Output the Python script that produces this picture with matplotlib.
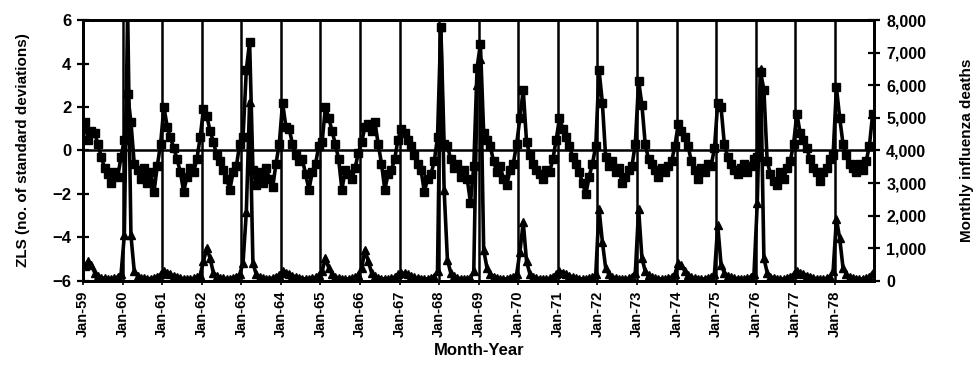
import numpy as np
import matplotlib.pyplot as plt
from matplotlib.ticker import FuncFormatter

plt.rcParams['font.family'] = ['Liberation Sans', 'DejaVu Sans']

# ZLS by month, one row per year (Jan..Dec), 1959-1978
zls = [
    1.3, 0.5, 0.9, 0.8, 0.3, -0.3, -0.8, -1.1, -1.5, -1.0, -1.2, -0.3,   # 1959
    0.5, 2.6, 1.3, -0.6, -0.9, -1.3, -0.8, -1.5, -1.0, -1.9, -0.7, 0.3,  # 1960
    2.0, 1.1, 0.6, 0.1, -0.4, -1.0, -1.9, -1.2, -0.8, -1.0, -0.4, 0.6,   # 1961
    1.9, 1.6, 0.9, 0.4, -0.2, -0.5, -0.9, -1.3, -1.8, -1.0, -0.7, 0.3,   # 1962
    0.6, 3.7, 5.0, -0.9, -1.6, -1.0, -1.5, -0.8, -1.3, -1.7, -0.6, 0.3,  # 1963
    2.2, 1.1, 1.0, 0.3, -0.2, -0.5, -0.4, -1.1, -1.8, -1.0, -0.6, 0.2,   # 1964
    0.4, 2.0, 1.5, 0.9, 0.3, -0.4, -1.8, -0.9, -1.1, -1.3, -0.8, -0.1,   # 1965
    0.4, 1.1, 1.2, 0.9, 1.3, 0.3, -0.6, -1.8, -1.1, -0.9, -0.4, 0.5,     # 1966
    1.0, 0.8, 0.5, 0.2, -0.2, -0.6, -0.9, -1.9, -1.3, -1.1, -0.5, 0.6,   # 1967
    5.7, 0.3, 0.2, -0.4, -0.8, -0.6, -1.2, -0.9, -1.3, -2.4, -0.7, 3.8,  # 1968
    4.9, 0.8, 0.5, 0.2, -0.5, -1.0, -0.7, -1.3, -1.6, -0.9, -0.6, 0.3,   # 1969
    1.5, 2.8, 0.4, -0.2, -0.6, -0.9, -1.1, -1.3, -0.9, -1.0, -0.4, 0.5,  # 1970
    1.5, 1.0, 0.6, 0.2, -0.3, -0.6, -1.0, -1.5, -2.0, -1.2, -0.6, 0.2,   # 1971
    3.7, 2.2, -0.3, -0.7, -0.5, -1.0, -0.8, -1.5, -1.2, -0.9, -0.7, 0.3, # 1972
    3.2, 2.1, 0.3, -0.4, -0.6, -0.9, -1.2, -0.8, -1.0, -0.7, -0.5, 0.2,  # 1973
    1.2, 0.9, 0.6, 0.2, -0.5, -0.9, -1.3, -0.8, -1.0, -0.6, -0.7, 0.1,   # 1974
    2.2, 2.0, 0.3, -0.3, -0.6, -0.9, -1.1, -0.8, -0.6, -1.0, -0.7, -0.4, # 1975
    -0.3, 3.6, 2.8, -0.5, -1.1, -1.4, -1.6, -1.0, -1.3, -0.8, -0.5, 0.3, # 1976
    1.7, 0.8, 0.5, 0.1, -0.4, -0.8, -1.0, -1.4, -1.0, -0.8, -0.4, -0.2,  # 1977
    2.9, 1.5, 0.3, -0.2, -0.6, -0.8, -1.0, -0.6, -0.9, -0.5, 0.2, 1.7,   # 1978
]

# monthly influenza deaths, same layout
deaths = [
    450, 600, 500, 250, 150, 100, 80, 70, 60, 90, 120, 200,       # 1959
    1400, 8300, 1400, 300, 150, 100, 80, 70, 70, 90, 130, 200,    # 1960
    300, 250, 200, 150, 120, 90, 70, 60, 60, 80, 110, 180,        # 1961
    600, 1000, 700, 250, 150, 100, 80, 70, 60, 90, 120, 200,      # 1962
    550, 2100, 5500, 550, 200, 110, 80, 70, 60, 90, 120, 190,     # 1963
    300, 250, 220, 160, 120, 90, 70, 60, 60, 80, 110, 180,        # 1964
    300, 700, 400, 200, 130, 90, 70, 60, 60, 80, 120, 190,        # 1965
    400, 950, 600, 250, 140, 90, 70, 60, 60, 80, 120, 200,        # 1966
    250, 230, 200, 150, 110, 90, 70, 60, 60, 80, 130, 300,        # 1967
    7800, 2800, 650, 250, 140, 90, 70, 60, 60, 90, 300, 6000,     # 1968
    6800, 950, 400, 200, 130, 90, 70, 60, 60, 80, 120, 200,       # 1969
    900, 1800, 600, 220, 130, 90, 70, 60, 60, 80, 120, 200,       # 1970
    300, 250, 220, 160, 120, 90, 70, 60, 60, 80, 110, 200,        # 1971
    2200, 1200, 400, 200, 130, 90, 70, 60, 60, 80, 130, 250,      # 1972
    2200, 700, 300, 180, 120, 90, 70, 60, 60, 80, 120, 200,       # 1973
    550, 500, 300, 180, 120, 90, 70, 60, 60, 80, 110, 200,        # 1974
    1700, 500, 250, 160, 120, 90, 70, 60, 60, 80, 120, 220,       # 1975
    2400, 6500, 700, 250, 130, 90, 70, 60, 60, 80, 120, 200,      # 1976
    300, 250, 220, 160, 120, 90, 70, 60, 60, 80, 120, 300,        # 1977
    1900, 1300, 400, 200, 130, 90, 70, 60, 60, 80, 120, 250,      # 1978
]

years = list(range(59, 79))
tick_labels = ['Jan-%d' % y for y in years]

x = np.arange(len(zls)) + 0.5

fig = plt.figure(figsize=(9.78, 3.72), dpi=100)
ax = fig.add_axes([0.085, 0.245, 0.809, 0.701])
ax2 = ax.twinx()

# year gridlines and zero line
for k in range(0, 241, 12):
    ax.axvline(k, color='black', lw=1.8, zorder=1)
ax.axhline(0, color='black', lw=1.8, zorder=1)

ax.plot(x, zls, color='black', lw=2.6, marker='s', ms=5.5, zorder=3)
ax2.plot(x, deaths, color='black', lw=2.6, marker='^', ms=5.5, zorder=3)

ax.set_xlim(0, 240)
ax.set_ylim(-6, 6)
ax2.set_ylim(0, 8000)

ax.set_yticks(range(-6, 7, 2))
ax2.set_yticks(range(0, 8001, 1000))
ax2.yaxis.set_major_formatter(FuncFormatter(lambda v, p: '{:,.0f}'.format(v)))

ax.set_xticks(range(0, 229, 12))
ax.set_xticklabels(tick_labels, rotation=90, fontsize=10.5, fontweight='bold')

ax.tick_params(axis='y', direction='inout', length=9, width=1.6, labelsize=12, pad=4)
ax2.tick_params(axis='y', direction='inout', length=9, width=1.6, labelsize=11.5, pad=4)
ax.tick_params(axis='x', direction='out', length=3, width=1.2, pad=4)
for lab in ax.get_yticklabels() + ax2.get_yticklabels():
    lab.set_fontweight('bold')

for a in (ax, ax2):
    for s in a.spines.values():
        s.set_linewidth(2.0)

ax.set_ylabel('ZLS (no. of standard deviations)', fontsize=11, fontweight='bold', labelpad=16)
ax2.set_ylabel('Monthly influenza deaths', fontsize=11, fontweight='bold', labelpad=24)
ax.set_xlabel('Month-Year', fontsize=12, fontweight='bold', labelpad=4)

fig.savefig('out.png', dpi=100)
